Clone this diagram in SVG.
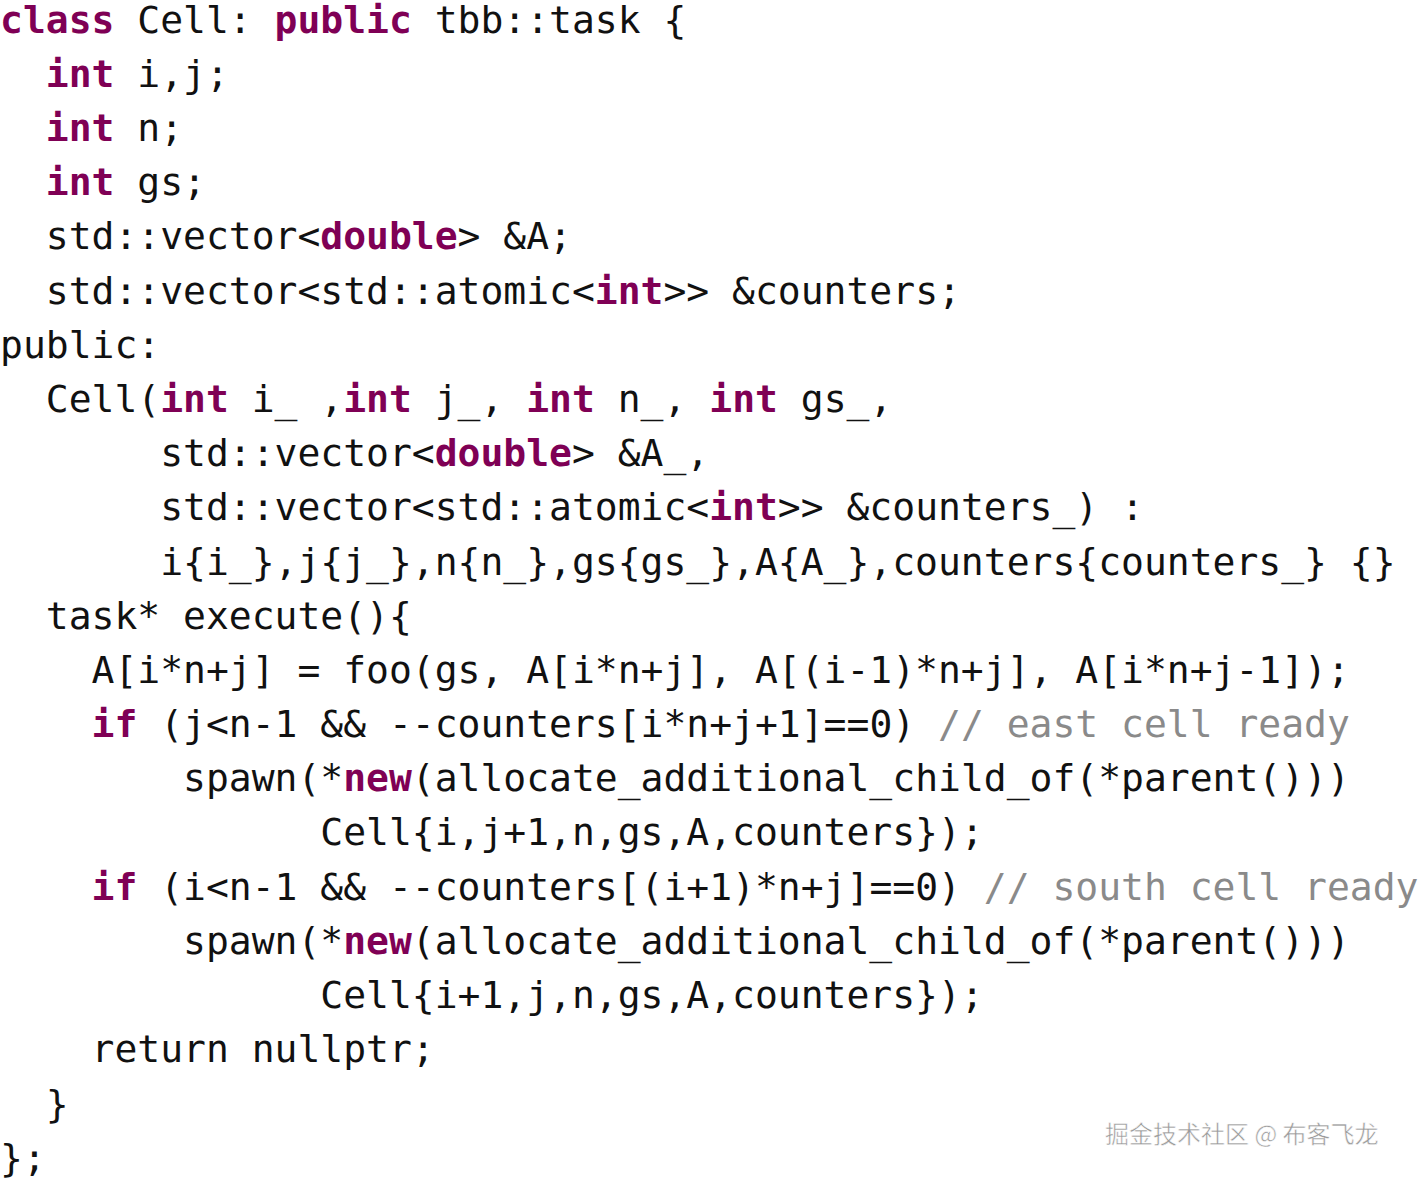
<svg xmlns="http://www.w3.org/2000/svg" width="1421" height="1179" viewBox="0 0 1421 1179">
<style>
text{font-family:"DejaVu Sans Mono","Liberation Mono",monospace;font-size:38px;fill:#111;white-space:pre}
.k{fill:#7f0055;font-weight:bold}
.c{fill:#8a8a8a}
.w{font-family:"Noto Sans CJK SC",sans-serif;font-size:24px;fill:#9a9a9a;stroke:#fff;stroke-width:0.5}
</style>
<rect width="1421" height="1179" fill="#fff"/>
<g id="code" xml:space="preserve">
<text x="0" y="33"><tspan class="k">class</tspan> Cell: <tspan class="k">public</tspan> tbb::task {</text>
<text x="0" y="87">  <tspan class="k">int</tspan> i,j;</text>
<text x="0" y="141">  <tspan class="k">int</tspan> n;</text>
<text x="0" y="195">  <tspan class="k">int</tspan> gs;</text>
<text x="0" y="249">  std::vector&lt;<tspan class="k">double</tspan>&gt; &amp;A;</text>
<text x="0" y="304">  std::vector&lt;std::atomic&lt;<tspan class="k">int</tspan>&gt;&gt; &amp;counters;</text>
<text x="0" y="358">public:</text>
<text x="0" y="412">  Cell(<tspan class="k">int</tspan> i_ ,<tspan class="k">int</tspan> j_, <tspan class="k">int</tspan> n_, <tspan class="k">int</tspan> gs_,</text>
<text x="0" y="466">       std::vector&lt;<tspan class="k">double</tspan>&gt; &amp;A_,</text>
<text x="0" y="520">       std::vector&lt;std::atomic&lt;<tspan class="k">int</tspan>&gt;&gt; &amp;counters_) :</text>
<text x="0" y="575">       i{i_},j{j_},n{n_},gs{gs_},A{A_},counters{counters_} {}</text>
<text x="0" y="629">  task* execute(){</text>
<text x="0" y="683">    A[i*n+j] = foo(gs, A[i*n+j], A[(i-1)*n+j], A[i*n+j-1]);</text>
<text x="0" y="737">    <tspan class="k">if</tspan> (j&lt;n-1 &amp;&amp; --counters[i*n+j+1]==0) <tspan class="c">// east cell ready</tspan></text>
<text x="0" y="791">        spawn(*<tspan class="k">new</tspan>(allocate_additional_child_of(*parent()))</text>
<text x="0" y="845">              Cell{i,j+1,n,gs,A,counters});</text>
<text x="0" y="900">    <tspan class="k">if</tspan> (i&lt;n-1 &amp;&amp; --counters[(i+1)*n+j]==0) <tspan class="c">// south cell ready</tspan></text>
<text x="0" y="954">        spawn(*<tspan class="k">new</tspan>(allocate_additional_child_of(*parent()))</text>
<text x="0" y="1008">              Cell{i+1,j,n,gs,A,counters});</text>
<text x="0" y="1062">    return nullptr;</text>
<text x="0" y="1117">  }</text>
<text x="0" y="1171">};</text>
</g>
<text class="w" x="1105" y="1143">掘金技术社区 @ 布客飞龙</text>
</svg>
